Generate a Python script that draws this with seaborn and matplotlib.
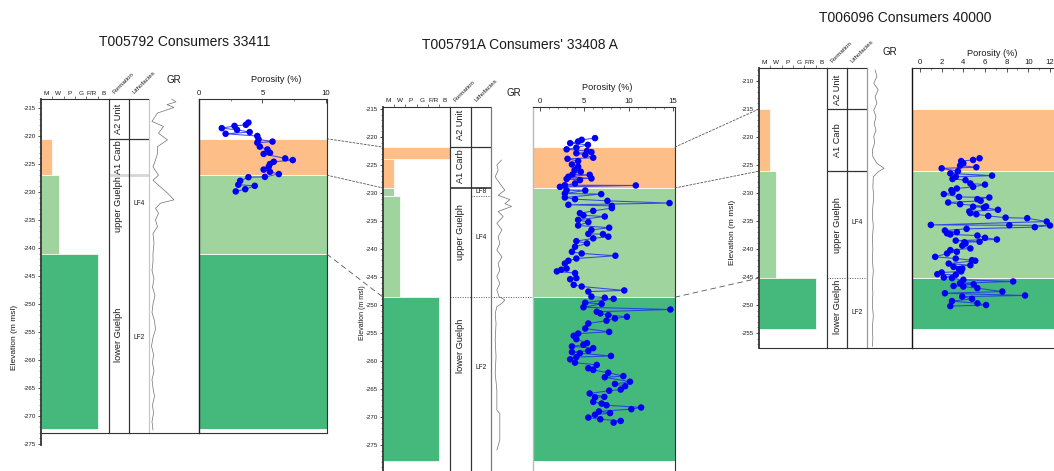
import matplotlib
matplotlib.use("Agg")
import matplotlib.pyplot as plt
from matplotlib.patches import ConnectionPatch
from matplotlib.ticker import MultipleLocator
import numpy as np
import pandas as pd
import seaborn as sns

sns.set_theme(style="ticks")
plt.rcParams["font.family"] = ["Liberation Sans", "DejaVu Sans"]
plt.rcParams["axes.unicode_minus"] = False

# Dunham texture classes shown on the texture track
texture_classes = ["M", "W", "P", "G", "F/R", "B"]
formations = ["A2 Unit", "A1 Carb", "upper Guelph", "lower Guelph"]
coloured_units = ["A1 Carb", "upper Guelph", "lower Guelph"]
unit_colors = {"A1 Carb": "#FDBE87", "upper Guelph": "#A0D49E", "lower Guelph": "#45B87C"}

# ---------------- T005792 Consumers 33411 ----------------
w1_title = "T005792 Consumers 33411"
w1_unit_tops = [-220.5, -227.0, -241.1]          # A1 Carb, upper Guelph, lower Guelph
w1_unit_base = -272.3
w1_tex_tops = [-220.5, -227.0, -241.1]
w1_tex_bases = [-227.0, -241.1, -272.3]
w1_tex_values = [1.0, 1.6, 5.0]
w1_tex_units = ["A1 Carb", "upper Guelph", "lower Guelph"]
w1_facies = ["LF4", "LF2"]
w1_facies_tops = [-227.0, -241.1]
w1_gr_elev = [-213.4, -213.9, -214.4, -214.9, -215.9, -217.4, -218.3, -219.5, -220.7, -221.9,
              -223.1, -224.3, -225.5, -227.0, -227.9, -229.1, -230.2, -231.4, -232.0, -232.9,
              -233.8, -235.0, -236.2, -237.4, -239.2, -240.9, -242.5, -244.0, -245.5, -247.0,
              -248.5, -250.0, -251.5, -253.0, -254.5, -256.0, -257.5, -259.0, -260.5, -262.0,
              -263.5, -265.0, -266.5, -268.0, -269.5, -271.0, -272.5]
w1_gr_api = [45, 54, 36, 50, 17, 6, 29, 19, 37, 17,
             17, 13, 8, 19, 8, 23, 37, 50, 23, 13,
             19, 13, 17, 8, 10, 8, 8, 6, 10, 7,
             12, 8, 6, 11, 13, 8, 5, 9, 7, 10,
             6, 8, 11, 7, 9, 6, 8]
w1_porosity = [(-217.6, 3.9), (-218.0, 3.7), (-218.2, 2.8), (-218.6, 1.8), (-218.9, 3.0),
               (-219.3, 4.0), (-219.6, 2.1), (-220.0, 4.6), (-220.6, 4.7), (-221.0, 5.8),
               (-221.2, 4.6), (-221.9, 4.8), (-222.4, 5.4), (-223.0, 5.6), (-223.2, 5.1),
               (-224.0, 6.8), (-224.3, 7.4), (-224.6, 5.9), (-225.0, 5.6), (-225.5, 5.5),
               (-226.0, 5.1), (-226.4, 5.6), (-226.8, 6.3), (-227.3, 5.2), (-227.35, 3.9),
               (-228.0, 3.25), (-228.7, 3.1), (-228.9, 4.4), (-229.5, 3.65), (-229.9, 2.9)]

# ---------------- T005791A Consumers' 33408 A ----------------
w2_title = "T005791A Consumers' 33408 A"
w2_unit_tops = [-221.8, -229.1, -248.6]
w2_unit_base = -277.9
w2_tex_tops = [-221.8, -223.9, -229.1, -230.5, -248.6]
w2_tex_bases = [-223.9, -229.1, -230.5, -248.6, -277.9]
w2_tex_values = [6.0, 1.0, 1.0, 1.5, 5.0]
w2_tex_units = ["A1 Carb", "A1 Carb", "upper Guelph", "upper Guelph", "lower Guelph"]
w2_facies = ["LF8", "LF4", "LF2"]
w2_facies_tops = [-229.1, -230.5, -248.6]
w2_gr_elev = [-224.1, -225.0, -225.9, -227.1, -228.3, -229.5, -230.4, -231.2, -231.9, -232.4,
              -233.3, -234.2, -235.4, -236.6, -237.8, -239.0, -240.2, -241.4, -242.6, -243.8,
              -244.9, -246.1, -247.3, -248.5, -249.1, -249.7, -250.3, -251.5, -253.3, -256.3,
              -259.2, -262.2, -265.2, -268.8, -269.4, -274.1, -275.9]
w2_gr_api = [25, 14, 17, 10, 21, 33, 17, 45, 33, 49,
             17, 29, 14, 26, 17, 21, 14, 26, 17, 21,
             14, 21, 14, 19, 33, 26, 14, 10, 12, 10,
             12, 10, 14, 14, 21, 21, 14]
w2_porosity = [(-220.2, 6.2), (-220.5, 4.7), (-220.8, 4.3), (-221.1, 3.4), (-221.4, 5.4),
               (-221.9, 4.1), (-222.2, 3.0), (-222.5, 5.3), (-222.7, 5.8), (-222.9, 4.1),
               (-223.2, 5.1), (-223.7, 6.0), (-223.9, 3.1), (-224.3, 4.3), (-224.9, 3.6),
               (-225.3, 4.3), (-225.9, 3.9), (-226.2, 4.6), (-226.7, 3.65), (-226.75, 5.6),
               (-227.1, 3.2), (-227.4, 5.8), (-227.5, 3.0), (-227.7, 4.5), (-228.3, 3.95),
               (-228.6, 2.8), (-228.65, 10.8), (-228.9, 2.25), (-229.5, 3.0), (-229.55, 5.1),
               (-230.1, 2.8), (-230.2, 6.9), (-230.8, 2.8), (-231.1, 3.95), (-231.4, 7.6),
               (-231.8, 14.6), (-232.1, 3.2), (-232.3, 8.1), (-232.7, 8.1), (-233.2, 6.0),
               (-233.6, 4.5), (-234.0, 4.9), (-234.2, 7.3), (-234.8, 4.3), (-235.2, 5.45),
               (-235.8, 4.3), (-236.2, 7.8), (-236.6, 5.8), (-237.3, 5.45), (-237.35, 7.1),
               (-237.8, 7.7), (-238.1, 6.0), (-238.6, 4.1), (-239.0, 5.3), (-239.6, 3.95),
               (-240.5, 3.6), (-240.8, 4.7), (-241.2, 8.5), (-241.7, 4.1), (-242.1, 3.2),
               (-242.6, 2.8), (-243.5, 3.0), (-243.7, 2.4), (-244.0, 1.9), (-244.3, 3.95),
               (-245.2, 4.1), (-245.4, 3.4), (-246.4, 3.8), (-246.7, 4.7), (-247.4, 9.5),
               (-247.6, 5.45), (-248.5, 5.8), (-248.7, 7.3), (-248.9, 8.3), (-249.6, 5.1),
               (-249.8, 6.95), (-250.4, 4.9), (-250.8, 14.7), (-251.2, 6.4), (-251.5, 6.8),
               (-251.8, 7.7), (-252.1, 9.8), (-252.4, 8.45), (-252.8, 7.5), (-253.3, 5.45),
               (-254.2, 5.1), (-254.8, 7.8), (-255.1, 4.3), (-255.5, 3.8), (-256.1, 4.1),
               (-256.8, 5.3), (-257.1, 4.9), (-257.4, 3.6), (-257.7, 6.0), (-258.2, 5.45),
               (-258.4, 3.6), (-258.6, 4.5), (-259.1, 8.0), (-259.3, 4.1), (-259.7, 3.4),
               (-260.3, 3.95), (-260.7, 6.4), (-261.3, 5.45), (-261.6, 6.0), (-262.1, 7.7),
               (-262.7, 9.4), (-262.9, 7.3), (-263.7, 10.15), (-264.1, 8.45), (-264.5, 9.6),
               (-265.1, 9.1), (-265.3, 7.8), (-265.8, 5.6), (-266.4, 7.25), (-266.5, 6.2),
               (-267.3, 6.0), (-267.6, 6.95), (-267.9, 7.5), (-268.3, 11.4), (-268.6, 10.3),
               (-269.0, 6.65), (-269.3, 7.9), (-269.6, 6.2), (-270.1, 5.45), (-270.4, 6.8),
               (-270.7, 9.1), (-271.0, 8.3)]

# ---------------- T006096 Consumers 40000 ----------------
w3_title = "T006096 Consumers 40000"
w3_unit_tops = [-215.0, -226.1, -245.2]
w3_unit_base = -254.3
w3_tex_tops = [-215.0, -226.1, -245.2]
w3_tex_bases = [-226.1, -245.2, -254.3]
w3_tex_values = [1.0, 1.5, 5.0]
w3_tex_units = ["A1 Carb", "upper Guelph", "lower Guelph"]
w3_facies = ["LF4", "LF2"]
w3_facies_tops = [-226.1, -245.2]
w3_gr_elev = [-208.0, -209.2, -210.4, -211.6, -212.8, -214.0, -215.2, -216.4, -217.6, -218.8,
              -219.9, -221.1, -222.3, -223.5, -224.7, -225.6, -226.2, -227.1, -228.9, -230.7,
              -232.4, -234.0, -236.0, -238.0, -240.0, -242.0, -244.0, -246.0, -248.0, -250.0,
              -252.0, -254.0, -256.0, -257.4]
w3_gr_api = [18, 22, 15, 25, 18, 22, 15, 20, 16, 20,
             15, 17, 12, 13, 22, 38, 25, 14, 13, 15,
             13, 12, 14, 12, 13, 12, 14, 12, 13, 12,
             14, 12, 13, 12]
w3_porosity = [(-223.8, 5.5), (-224.1, 4.9), (-224.3, 3.8), (-224.7, 4.0), (-225.1, 3.7),
               (-225.4, 5.2), (-225.6, 2.0), (-226.1, 3.5), (-226.5, 2.8), (-226.9, 6.65),
               (-227.1, 3.3), (-227.5, 3.0), (-227.7, 4.2), (-228.3, 4.65), (-228.5, 6.0),
               (-228.9, 4.9), (-229.2, 3.4), (-229.5, 2.9), (-229.9, 3.0), (-230.2, 2.2),
               (-230.7, 3.6), (-230.8, 6.4), (-231.1, 5.3), (-231.4, 5.6), (-231.7, 2.6),
               (-232.0, 3.7), (-232.4, 6.1), (-232.45, 4.9), (-232.6, 5.9), (-233.0, 7.2),
               (-233.3, 4.55), (-233.6, 4.65), (-233.8, 5.2), (-234.1, 6.3), (-234.4, 7.9),
               (-234.5, 9.9), (-235.1, 11.7), (-235.7, 1.0), (-235.75, 8.25), (-235.8, 12.0),
               (-236.1, 10.6), (-236.4, 4.3), (-236.7, 2.3), (-237.0, 3.4), (-237.2, 2.5),
               (-237.4, 2.8), (-237.6, 5.3), (-238.0, 6.0), (-238.3, 7.1), (-238.5, 3.3),
               (-238.7, 5.5), (-238.8, 4.1), (-239.0, 4.2), (-239.4, 3.9), (-239.9, 4.65),
               (-240.2, 2.8), (-240.5, 3.4), (-240.8, 2.5), (-241.4, 1.4), (-241.7, 3.3),
               (-242.0, 4.8), (-242.1, 5.1), (-242.6, 2.65), (-242.9, 4.65), (-243.2, 3.1),
               (-243.5, 3.9), (-243.6, 3.6), (-244.0, 3.8), (-244.2, 2.0), (-244.5, 1.6),
               (-244.6, 3.3), (-245.1, 2.2), (-245.2, 2.95), (-245.5, 4.0), (-245.8, 8.6),
               (-246.1, 3.7), (-246.3, 4.95), (-246.6, 3.1), (-246.7, 4.0), (-247.0, 5.3),
               (-247.6, 7.6), (-247.9, 2.3), (-248.3, 9.7), (-248.5, 3.9), (-248.9, 4.8),
               (-249.3, 2.95), (-249.7, 5.3), (-250.0, 6.1), (-250.2, 2.8)]

wells = [
    dict(title=w1_title, unit_tops=w1_unit_tops, unit_base=w1_unit_base,
         tex_tops=w1_tex_tops, tex_bases=w1_tex_bases, tex_values=w1_tex_values,
         tex_units=w1_tex_units, facies=w1_facies, facies_tops=w1_facies_tops,
         gr_elev=w1_gr_elev, gr_api=w1_gr_api, porosity=w1_porosity),
    dict(title=w2_title, unit_tops=w2_unit_tops, unit_base=w2_unit_base,
         tex_tops=w2_tex_tops, tex_bases=w2_tex_bases, tex_values=w2_tex_values,
         tex_units=w2_tex_units, facies=w2_facies, facies_tops=w2_facies_tops,
         gr_elev=w2_gr_elev, gr_api=w2_gr_api, porosity=w2_porosity),
    dict(title=w3_title, unit_tops=w3_unit_tops, unit_base=w3_unit_base,
         tex_tops=w3_tex_tops, tex_bases=w3_tex_bases, tex_values=w3_tex_values,
         tex_units=w3_tex_units, facies=w3_facies, facies_tops=w3_facies_tops,
         gr_elev=w3_gr_elev, gr_api=w3_gr_api, porosity=w3_porosity),
]

# ---------------- page layout (pixels) ----------------
W, H = 1054, 471
PX_PER_M = 5.6
SOLID = dict(color="#333333", lw=0.9, ls="-", cols=("form", "lith"))
layouts = [
    dict(ref_py=108, top=-213.4, base=-273.0, tex_base=-275.1, open_bottom=False,
         cols={"tex": (41, 109), "form": (109, 129), "lith": (129, 149), "gr": (149, 199), "por": (199, 327)},
         por_xlim=(0, 10.1), por_major=5, por_minor=2.5,
         title_xy=(185, 42), gr_xy=(174, 80), por_xy=(276, 79),
         ylabel_xy=(14, 337), ylabel_size=6,
         form_label_elev=[-217.0, -223.75, -232.1, -255.5], facies_label_elev=[-232.1, -255.9],
         bounds=[SOLID, dict(color="#d6d6d6", lw=2.0, ls="-", cols=("form", "lith")), None],
         lith_edge="#c8c8c8", por_left="#222222"),
    dict(ref_py=109, top=-214.6, base=-279.6, open_bottom=True,
         cols={"tex": (383, 450), "form": (450, 471), "lith": (471, 491), "gr": (491, 533), "por": (533, 675)},
         por_xlim=(-0.79, 15.22), por_major=5, por_minor=1,
         title_xy=(520, 45), gr_xy=(514, 93), por_xy=(607, 88),
         ylabel_xy=(363, 313), ylabel_size=5,
         form_label_elev=[-217.9, -225.2, -237.0, -257.3], facies_label_elev=[-229.8, -237.9, -261.1],
         bounds=[SOLID, dict(color="#333333", lw=1.2, ls="-", cols=("form", "lith")),
                 dict(color="#555555", lw=0.7, ls=(0, (1, 1.5)), cols=("form", "lith", "gr"))],
         lith_edge="#777777", por_left="#bbbbbb"),
    dict(ref_py=109, top=-207.7, base=-257.7, open_bottom=False,
         cols={"tex": (759, 827), "form": (827, 847), "lith": (847, 867), "gr": (867, 912), "por": (912, 1058)},
         por_xlim=(-0.74, 12.74), por_major=2, por_minor=1,
         title_xy=(905, 18), gr_xy=(890, 52), por_xy=(992, 53),
         ylabel_xy=(732, 232), ylabel_size=6,
         form_label_elev=[-211.6, -220.5, -235.7, -250.4], facies_label_elev=[-235.2, -251.3],
         bounds=[SOLID, SOLID, dict(color="#555555", lw=0.7, ls=(0, (1, 1.5)), cols=("form", "lith"))],
         lith_edge="#999999", por_left="#111111"),
]
correlation_dashes = [(0, (2.5, 2)), (0, (2.5, 2)), (0, (6, 5))]
TXT = "#1a1a1a"

fig = plt.figure(figsize=(W / 100, H / 100), dpi=100)


def frac_box(x0, x1, y0, y1):
    return [x0 / W, 1 - y1 / H, (x1 - x0) / W, (y1 - y0) / H]


def fig_xy(x, y):
    return x / W, 1 - y / H


def draw_well(w, lay):
    def py(e):
        return lay["ref_py"] + (-215.0 - e) * PX_PER_M

    top, box = lay["top"], lay["base"]
    tex_base = lay.get("tex_base", box)
    axs = {}
    for key, (x0, x1) in lay["cols"].items():
        b = tex_base if key == "tex" else box
        ax = fig.add_axes(frac_box(x0, x1, py(top), py(b)))
        ax.patch.set_alpha(0)
        for s in ax.spines.values():
            s.set_color("#333333")
            s.set_linewidth(0.8)
        if lay["open_bottom"]:
            ax.spines["bottom"].set_visible(False)
        ax.tick_params(left=False, bottom=False, labelleft=False, labelbottom=False)
        axs[key] = ax

    # texture track
    ax = axs["tex"]
    for t, b, v, u in zip(w["tex_tops"], w["tex_bases"], w["tex_values"], w["tex_units"]):
        ax.barh((t + b) / 2, v, height=t - b, left=0, color=unit_colors[u],
                edgecolor="white", linewidth=0.5)
    ax.set_xlim(0, 6)
    ax.set_ylim(tex_base, top)
    ax.set_xticks([1, 2, 3, 4, 5])
    ax.set_xticks(np.arange(6) + 0.5, minor=True)
    ax.set_xticklabels(texture_classes, minor=True)
    ax.tick_params(axis="x", which="major", top=True, bottom=False, labeltop=False,
                   labelbottom=False, direction="out", length=2.5, width=0.5, color="#444444")
    ax.tick_params(axis="x", which="minor", top=True, bottom=False, labeltop=True,
                   labelbottom=False, length=0, labelsize=4.6, pad=2.5, labelcolor=TXT)
    ax.yaxis.set_major_locator(MultipleLocator(5))
    ax.yaxis.set_minor_locator(MultipleLocator(1))
    ax.tick_params(axis="y", which="both", left=True, labelleft=True, direction="out",
                   color="#333333", labelcolor=TXT)
    ax.tick_params(axis="y", which="major", length=2.5, width=0.6, labelsize=4.4, pad=1)
    ax.tick_params(axis="y", which="minor", length=1.3, width=0.4)
    ax.spines["left"].set_linewidth(1.3)
    ax.spines["right"].set_color("#555555")
    if tex_base != box:
        ax.spines["bottom"].set_visible(False)
        ax.spines["right"].set_bounds(box, top)
        ax.axhline(box, color="#333333", lw=0.8)

    # formation and lithofacies tracks
    axf, axl = axs["form"], axs["lith"]
    for a in (axf, axl):
        a.set_xlim(0, 1)
        a.set_ylim(box, top)
    for name, e in zip(formations, lay["form_label_elev"]):
        axf.text(0.5, e, name, rotation=90, ha="center", va="center", fontsize=6.6, color=TXT)
    for name, e in zip(w["facies"], lay["facies_label_elev"]):
        axl.text(0.5, e, name, ha="center", va="center", fontsize=4.8, color=TXT)
    axl.spines["right"].set_color(lay["lith_edge"])
    for e, st in zip(w["unit_tops"], lay["bounds"]):
        if st is None:
            continue
        for key in st["cols"]:
            axs[key].axhline(e, color=st["color"], lw=st["lw"], ls=st["ls"])
    for e in w["facies_tops"]:
        if e not in w["unit_tops"]:
            axl.axhline(e, color="#555555", lw=0.7, ls=(0, (1, 1.5)))

    # gamma-ray track
    axg = axs["gr"]
    sns.lineplot(x=w["gr_api"], y=w["gr_elev"], orient="y", sort=False, estimator=None,
                 ax=axg, color="#707070", lw=0.5)
    axg.set_xlim(0, 100)
    axg.set_ylim(box, top)
    axg.spines["top"].set_visible(False)
    axg.spines["left"].set_color(lay["lith_edge"])
    axg.spines["right"].set_visible(False)

    # porosity track
    axp = axs["por"]
    edges = w["unit_tops"] + [w["unit_base"]]
    for i, u in enumerate(coloured_units):
        axp.axhspan(edges[i + 1], edges[i], facecolor=unit_colors[u], edgecolor="white", lw=0.6)
    df = pd.DataFrame(w["porosity"], columns=["elev", "por"])
    sns.lineplot(data=df, x="por", y="elev", orient="y", sort=True, estimator=None, ax=axp,
                 color="#2030f0", lw=0.75, alpha=0.85)
    sns.scatterplot(data=df, x="por", y="elev", ax=axp, color="#0000f5", s=22,
                    edgecolor="none", zorder=3)
    axp.set_xlim(*lay["por_xlim"])
    axp.set_ylim(box, top)
    axp.set_xlabel("")
    axp.set_ylabel("")
    axp.xaxis.set_major_locator(MultipleLocator(lay["por_major"]))
    axp.xaxis.set_minor_locator(MultipleLocator(lay["por_minor"]))
    axp.tick_params(axis="x", which="both", top=True, labeltop=True, bottom=False,
                    labelbottom=False, direction="in", color="#333333", labelcolor=TXT)
    axp.tick_params(axis="x", which="major", length=3, width=0.6, labelsize=5.6, pad=1.5)
    axp.tick_params(axis="x", which="minor", length=1.6, width=0.4)
    axp.tick_params(axis="y", which="both", left=False, right=False, labelleft=False)
    axp.spines["left"].set_color(lay["por_left"])
    axp.spines["left"].set_linewidth(1.0)

    # headers
    fig.text(*fig_xy(*lay["title_xy"]), w["title"], ha="center", va="center", fontsize=10, color=TXT)
    fig.text(*fig_xy(*lay["gr_xy"]), "GR", ha="center", va="center", fontsize=7, color=TXT)
    fig.text(*fig_xy(*lay["por_xy"]), "Porosity (%)", ha="center", va="center", fontsize=6.6, color=TXT)
    fx0 = lay["cols"]["form"][0]
    lx0 = lay["cols"]["lith"][0]
    fig.text(*fig_xy(fx0 + 6, py(top) - 4), "Formation", rotation=45, ha="left", va="bottom",
             rotation_mode="anchor", fontsize=4.5, color=TXT)
    fig.text(*fig_xy(lx0 + 6, py(top) - 4), "Lithofacies", rotation=45, ha="left", va="bottom",
             rotation_mode="anchor", fontsize=4.5, color=TXT)
    fig.text(*fig_xy(*lay["ylabel_xy"]), "Elevation (m msl)", rotation=90, ha="center",
             va="center", fontsize=lay["ylabel_size"], color=TXT)
    return axs


all_axes = [draw_well(w, lay) for w, lay in zip(wells, layouts)]

# dashed correlation of unit tops between neighbouring wells
for left, right, wl, wr in [(all_axes[0], all_axes[1], wells[0], wells[1]),
                            (all_axes[1], all_axes[2], wells[1], wells[2])]:
    for el, er, dash in zip(wl["unit_tops"], wr["unit_tops"], correlation_dashes):
        con = ConnectionPatch(xyA=(1, el), coordsA=left["por"].get_yaxis_transform(),
                              xyB=(0, er), coordsB=right["tex"].get_yaxis_transform(),
                              color="#555555", lw=0.6, linestyle=dash)
        fig.add_artist(con)

fig.savefig("out.png", dpi=100, facecolor="white")
